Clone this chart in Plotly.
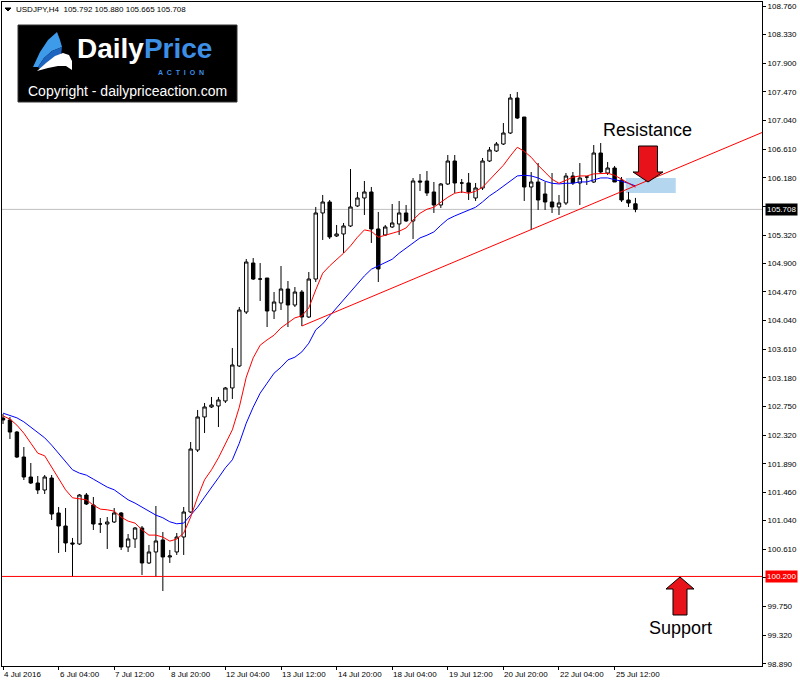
import plotly.graph_objects as go

# ---------------- data ----------------
BAR_INDEX = list(range(92))

OPEN = [102.577, 102.548, 102.367, 101.992, 101.692, 101.602, 101.497, 101.677, 101.152, 100.957,
        100.702, 100.687, 101.422, 101.272, 100.987, 100.987, 101.017, 101.152, 100.642, 100.762,
        100.927, 100.402, 100.567, 100.747, 100.492, 100.567, 100.792, 101.167, 102.097, 102.593,
        102.743, 102.758, 102.833, 103.028, 103.358, 104.168, 104.903, 104.663, 104.678, 104.183,
        104.303, 104.513, 104.273, 104.468, 104.093, 104.663, 105.654, 105.819, 105.309, 105.339,
        105.459, 105.759, 105.879, 105.969, 105.414, 105.324, 105.444, 105.489, 105.654, 105.534,
        106.134, 106.134, 105.969, 105.774, 106.089, 106.434, 106.104, 106.104, 105.879, 106.029,
        106.434, 106.584, 106.689, 106.854, 107.379, 107.094, 106.044, 106.119, 105.939, 105.819,
        105.744, 105.804, 106.209, 106.104, 106.194, 106.119, 106.554, 106.254, 106.329, 106.149,
        105.849, 105.792]
HIGH = [102.638, 102.593, 102.382, 102.142, 101.902, 101.707, 101.722, 101.722, 101.242, 101.227,
        100.777, 101.437, 101.452, 101.392, 101.077, 101.092, 101.227, 101.167, 100.837, 100.942,
        100.957, 100.672, 101.257, 100.867, 100.597, 100.852, 101.242, 102.217, 102.698, 102.803,
        102.893, 102.893, 103.043, 103.628, 104.243, 104.963, 104.978, 104.903, 104.678, 104.468,
        104.858, 104.633, 104.543, 104.498, 104.768, 105.744, 105.924, 105.849, 105.474, 105.504,
        106.314, 105.969, 106.134, 106.044, 105.669, 105.474, 105.789, 105.834, 105.774, 106.179,
        106.239, 106.284, 106.119, 106.104, 106.524, 106.524, 106.164, 106.254, 106.104, 106.479,
        106.644, 106.719, 107.004, 107.439, 107.469, 107.094, 106.269, 106.404, 106.119, 106.254,
        105.924, 106.254, 106.269, 106.404, 106.209, 106.674, 106.704, 106.419, 106.359, 106.194,
        105.969, 105.880]
LOW = [102.487, 102.262, 101.977, 101.647, 101.587, 101.437, 101.437, 101.047, 100.552, 100.567,
       100.192, 100.672, 101.272, 100.897, 100.852, 100.612, 101.002, 100.597, 100.567, 100.627,
       100.222, 100.387, 100.192, 99.981, 100.402, 100.522, 100.522, 101.152, 102.067, 102.352,
       102.728, 102.442, 102.803, 102.863, 103.343, 104.138, 104.648, 104.333, 103.943, 104.063,
       104.198, 103.943, 104.243, 103.958, 104.078, 104.618, 105.249, 105.264, 105.294, 105.054,
       105.444, 105.744, 105.624, 105.204, 104.618, 105.309, 105.429, 105.324, 105.519, 105.264,
       105.984, 105.909, 105.654, 105.729, 106.074, 105.954, 105.954, 105.849, 105.834, 105.999,
       106.419, 106.569, 106.674, 106.839, 107.064, 105.834, 105.399, 105.699, 105.699, 105.654,
       105.624, 105.774, 106.074, 105.774, 106.074, 106.104, 106.254, 106.224, 106.119, 105.819,
       105.744, 105.665]
CLOSE = [102.548, 102.367, 101.992, 101.692, 101.602, 101.497, 101.692, 101.137, 100.957, 100.702,
         100.687, 101.422, 101.287, 100.987, 100.987, 101.017, 101.152, 100.642, 100.762, 100.927,
         100.402, 100.567, 100.732, 100.492, 100.507, 100.792, 101.167, 102.112, 102.593, 102.743,
         102.773, 102.848, 103.028, 103.373, 104.198, 104.918, 104.663, 104.663, 104.183, 104.318,
         104.513, 104.273, 104.468, 104.093, 104.663, 105.654, 105.819, 105.294, 105.339, 105.459,
         105.744, 105.879, 105.969, 105.414, 104.814, 105.444, 105.504, 105.654, 105.534, 106.134,
         106.119, 105.954, 105.774, 106.089, 106.434, 106.104, 106.104, 105.969, 106.029, 106.434,
         106.599, 106.689, 106.854, 107.379, 107.079, 106.044, 106.119, 105.849, 105.819, 105.744,
         105.804, 106.209, 106.104, 106.179, 106.194, 106.554, 106.269, 106.329, 106.119, 105.849,
         105.804, 105.708]

MA_FAST = [102.61, 102.56, 102.47, 102.35, 102.20, 102.05, 102.01, 101.84, 101.68, 101.50,
           101.38, 101.36, 101.35, 101.27, 101.21, 101.20, 101.18, 101.09, 101.03, 101.00,
           100.90, 100.82, 100.82, 100.79, 100.73, 100.76, 100.85, 101.09, 101.39, 101.65,
           101.80, 101.98, 102.20, 102.40, 102.74, 103.19, 103.48, 103.67, 103.75, 103.82,
           103.93, 104.00, 104.08, 104.11, 104.23, 104.50, 104.75, 104.86, 104.95, 105.05,
           105.16, 105.29, 105.40, 105.38, 105.29, 105.32, 105.34, 105.38, 105.43, 105.55,
           105.65, 105.71, 105.74, 105.82, 105.89, 105.95, 105.97, 105.95, 105.98, 106.04,
           106.15, 106.25, 106.37, 106.51, 106.64, 106.58, 106.49, 106.37, 106.27, 106.16,
           106.10, 106.15, 106.19, 106.21, 106.21, 106.24, 106.25, 106.25, 106.22, 106.16,
           106.10, 106.04]
MA_SLOW = [102.65, 102.62, 102.58, 102.52, 102.44, 102.37, 102.28, 102.17, 102.05, 101.92,
           101.80, 101.75, 101.72, 101.66, 101.60, 101.54, 101.50, 101.42, 101.35, 101.30,
           101.24, 101.18, 101.12, 101.08, 101.02, 100.99, 101.00, 101.12, 101.24, 101.39,
           101.53, 101.68, 101.83, 101.95, 102.20, 102.50, 102.74, 102.95, 103.10, 103.25,
           103.34, 103.45, 103.49, 103.57, 103.70, 103.90, 103.99, 104.11, 104.23, 104.35,
           104.47, 104.59, 104.71, 104.81, 104.86, 104.90, 104.96, 105.05, 105.13, 105.20,
           105.28, 105.32, 105.37, 105.47, 105.56, 105.61, 105.65, 105.70, 105.74, 105.82,
           105.91, 105.98, 106.06, 106.13, 106.21, 106.22, 106.21, 106.18, 106.13, 106.10,
           106.09, 106.10, 106.10, 106.12, 106.12, 106.15, 106.18, 106.18, 106.16, 106.13,
           106.10, 106.06]

X_TICK_POS = [0, 8, 16, 24, 32, 40, 48, 56, 64, 72, 80, 88]
X_TICK_LABELS = ["4 Jul 2016", "6 Jul 04:00", "7 Jul 12:00", "8 Jul 20:00", "12 Jul 04:00",
                 "13 Jul 12:00", "14 Jul 20:00", "18 Jul 04:00", "19 Jul 12:00", "20 Jul 20:00",
                 "22 Jul 04:00", "25 Jul 12:00"]
Y_TICK_VALS = [108.760, 108.330, 107.900, 107.470, 107.040, 106.610, 106.180, 105.750, 105.320,
               104.900, 104.470, 104.040, 103.610, 103.180, 102.750, 102.320, 101.890, 101.460,
               101.040, 100.610, 100.180, 99.750, 99.320, 98.890]
# tick labels that sit under the price boxes are hidden in the original
Y_TICK_HIDDEN = [105.750, 100.180]

SUPPORT = 100.200
LAST_PRICE = 105.708
TREND_X = [43, 109.3]
TREND_Y = [103.958, 106.865]
ZONE_X = [89.6, 96.8]
ZONE_Y = [105.954, 106.179]
HEADER = "USDJPY,H4  105.792 105.880 105.665 105.708"

# ---------------- layout helpers ----------------
W, H = 800, 685
L, R, T, B = 2, 38, 2, 19
PW, PH = W - L - R, H - T - B


def px(x):
    return (x - L) / PW


def py(y):
    return (H - B - y) / PH


def path(points):
    return "M " + " L ".join(f"{px(a):.5f},{py(b):.5f}" for a, b in points) + " Z"


FONT = "Liberation Sans, Arial, sans-serif"

fig = go.Figure()

fig.add_trace(go.Candlestick(
    x=BAR_INDEX, open=OPEN, high=HIGH, low=LOW, close=CLOSE,
    increasing=dict(line=dict(color="black", width=1), fillcolor="white"),
    decreasing=dict(line=dict(color="black", width=1), fillcolor="black"),
    whiskerwidth=0, hoverinfo="skip", showlegend=False,
))
fig.add_trace(go.Scatter(x=BAR_INDEX, y=MA_SLOW, mode="lines",
                         line=dict(color="#0000ff", width=1), hoverinfo="skip", showlegend=False))
fig.add_trace(go.Scatter(x=BAR_INDEX, y=MA_FAST, mode="lines",
                         line=dict(color="#ff0000", width=1), hoverinfo="skip", showlegend=False))
fig.add_trace(go.Scatter(x=TREND_X, y=TREND_Y, mode="lines",
                         line=dict(color="#ff0000", width=1), hoverinfo="skip", showlegend=False))

shapes = []
# resistance zone
shapes.append(dict(type="rect", xref="x", yref="y", x0=ZONE_X[0], x1=ZONE_X[1],
                   y0=ZONE_Y[0], y1=ZONE_Y[1], fillcolor="rgb(180,214,238)",
                   line=dict(width=0), layer="below"))
# current price line
shapes.append(dict(type="line", xref="paper", yref="y", x0=0, x1=1, y0=LAST_PRICE, y1=LAST_PRICE,
                   line=dict(color="#c0c0c0", width=1), layer="below"))
# support line
shapes.append(dict(type="line", xref="paper", yref="y", x0=0, x1=1, y0=SUPPORT, y1=SUPPORT,
                   line=dict(color="#ff0000", width=1), layer="above"))
# down arrow (resistance)
shapes.append(dict(type="path", xref="paper", yref="paper", layer="above",
                   path=path([(638.5, 146), (657.5, 146), (657.5, 172), (663, 172), (648, 182),
                              (633, 172), (638.5, 172)]),
                   fillcolor="#e8121a", line=dict(color="black", width=1)))
# up arrow (support)
shapes.append(dict(type="path", xref="paper", yref="paper", layer="above",
                   path=path([(680, 577), (694, 589), (687, 589), (687, 615), (673, 615),
                              (673, 589), (666, 589)]),
                   fillcolor="#e8121a", line=dict(color="black", width=1)))
# logo box
shapes.append(dict(type="rect", xref="paper", yref="paper", layer="above",
                   x0=px(18), x1=px(237), y0=py(102), y1=py(25),
                   fillcolor="black", line=dict(color="#333333", width=1)))
# logo icon
shapes.append(dict(type="path", xref="paper", yref="paper", layer="above",
                   path=path([(33, 67), (40, 52), (48, 40), (57, 32), (60, 40), (62, 47),
                              (52, 51), (44, 58), (38, 67)]),
                   fillcolor="#3d9be9", line=dict(width=0)))
shapes.append(dict(type="path", xref="paper", yref="paper", layer="above",
                   path=path([(38, 67), (44, 58), (52, 51), (62, 47), (61, 55), (52, 59),
                              (44, 65), (40, 69)]),
                   fillcolor="#1c64c0", line=dict(width=0)))
shapes.append(dict(type="path", xref="paper", yref="paper", layer="above",
                   path=path([(37, 71), (46, 63), (55, 56), (63, 53), (69, 55), (72, 61),
                              (72, 70), (66, 66), (58, 66), (48, 68)]),
                   fillcolor="white", line=dict(width=0)))
# header triangle
shapes.append(dict(type="path", xref="paper", yref="paper", layer="above",
                   path=path([(5, 8), (11, 8), (8, 11)]), fillcolor="black",
                   line=dict(color="black", width=1)))

annotations = []
for pos, lab in zip(X_TICK_POS, X_TICK_LABELS):
    annotations.append(dict(x=pos, y=0, xref="x", yref="paper", text=lab, showarrow=False,
                            xanchor="left", yanchor="top", yshift=-2, xshift=-1,
                            font=dict(size=8, family=FONT, color="black")))
annotations.append(dict(x=1, y=LAST_PRICE, xref="paper", yref="y", text=f"{LAST_PRICE:.3f}",
                        showarrow=False, xanchor="left", yanchor="middle", xshift=3,
                        bgcolor="black", borderpad=1,
                        font=dict(size=8, family=FONT, color="white")))
annotations.append(dict(x=1, y=SUPPORT, xref="paper", yref="y", text=f"{SUPPORT:.3f}",
                        showarrow=False, xanchor="left", yanchor="middle", xshift=3,
                        bgcolor="#ff0000", borderpad=1,
                        font=dict(size=8, family=FONT, color="white")))
annotations.append(dict(x=px(647), y=py(130), xref="paper", yref="paper", text="Resistance",
                        showarrow=False, xanchor="center", yanchor="middle",
                        font=dict(size=18, family=FONT, color="black")))
annotations.append(dict(x=px(680), y=py(628), xref="paper", yref="paper", text="Support",
                        showarrow=False, xanchor="center", yanchor="middle",
                        font=dict(size=18, family=FONT, color="black")))
annotations.append(dict(x=px(14), y=py(3), xref="paper", yref="paper", text=HEADER,
                        showarrow=False, xanchor="left", yanchor="top",
                        font=dict(size=8, family=FONT, color="black")))
annotations.append(dict(x=px(75), y=py(66), xref="paper", yref="paper",
                        text="<b>Daily<span style='color:#3d8fe6'>Price</span></b>",
                        showarrow=False, xanchor="left", yanchor="bottom",
                        font=dict(size=28, family=FONT, color="white")))
annotations.append(dict(x=px(181), y=py(67), xref="paper", yref="paper",
                        text="<b>A  C  T  I  O  N</b>",
                        showarrow=False, xanchor="center", yanchor="top",
                        font=dict(size=7, family=FONT, color="#3d8fe6")))
annotations.append(dict(x=px(127), y=py(91), xref="paper", yref="paper",
                        text="Copyright - dailypriceaction.com",
                        showarrow=False, xanchor="center", yanchor="middle",
                        font=dict(size=14, family=FONT, color="white")))

fig.update_layout(
    width=W, height=H, autosize=False,
    margin=dict(l=L, r=R, t=T, b=B),
    paper_bgcolor="white", plot_bgcolor="white",
    showlegend=False, hovermode=False,
    shapes=shapes, annotations=annotations,
    xaxis=dict(range=[-0.144, 109.21], showgrid=False, zeroline=False,
               tickmode="array", tickvals=X_TICK_POS, showticklabels=False,
               ticks="outside", ticklen=3, tickcolor="black",
               showline=True, linecolor="black", linewidth=1, mirror=True,
               rangeslider=dict(visible=False), fixedrange=True),
    yaxis=dict(range=[98.856, 108.820], side="right", showgrid=False, zeroline=False,
               tickmode="array", tickvals=Y_TICK_VALS,
               ticktext=["" if v in Y_TICK_HIDDEN else f"{v:.3f}" for v in Y_TICK_VALS],
               ticks="outside", ticklen=3, tickcolor="black",
               tickfont=dict(size=8, family=FONT, color="black"),
               showline=True, linecolor="black", linewidth=1, mirror=True, fixedrange=True),
)

fig.write_html("out.html")
